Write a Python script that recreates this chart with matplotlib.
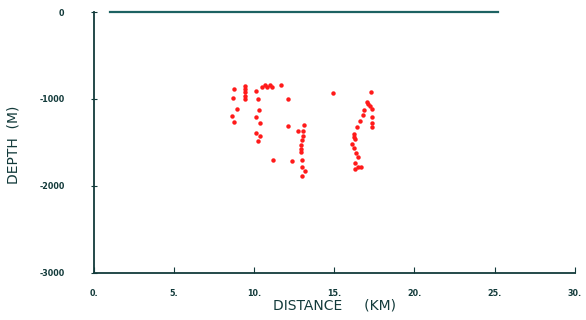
import numpy as np
from matplotlib import pyplot as plt

# hypocentres (distance km, depth m)
dist_km = [8.75, 8.71, 8.94, 8.63, 8.73,
           9.46, 9.46, 9.46, 9.46, 9.46,
           10.11, 10.25, 10.31, 10.11, 10.37, 10.12, 10.37, 10.27,
           10.48, 10.65, 10.81, 10.98, 11.12, 11.65,
           12.12, 12.12, 11.19, 12.35, 12.71,
           13.10, 13.06, 13.02, 12.98, 12.93, 12.91, 12.92, 12.96, 12.99, 13.18, 12.96,
           14.91,
           17.26, 17.01, 17.11, 17.22, 16.84, 16.76, 16.59, 16.43, 16.22, 16.22,
           16.26, 16.11, 16.24, 16.34, 16.45, 16.28, 16.47, 16.68, 16.26,
           17.32, 17.36, 17.34, 17.34]
depth_m = [-884, -984, -1118, -1191, -1267,
           -846, -884, -922, -961, -996,
           -903, -995, -1126, -1203, -1279, -1387, -1425, -1483,
           -857, -838, -864, -841, -857, -838,
           -1002, -1310, -1702, -1713, -1368,
           -1298, -1364, -1422, -1471, -1525, -1575, -1613, -1702, -1779, -1828, -1882,
           -933,
           -915, -1037, -1060, -1079, -1126, -1183, -1249, -1325, -1402, -1440,
           -1460, -1517, -1567, -1618, -1670, -1740, -1779, -1779, -1805,
           -1118, -1203, -1279, -1318]

surface_x = [1.0, 25.2]
surface_y = [0, 0]

xticks = [0, 5, 10, 15, 20, 25, 30]
xticklabels = ["0.", "5.", "10.", "15.", "20.", "25.", "30."]
yticks = [0, -1000, -2000, -3000]
yticklabels = ["0", "-1000", "-2000", "-3000"]

ink = "#123a3a"

fig = plt.figure(figsize=(5.86, 3.2), dpi=100)
ax = fig.add_axes([0.160, 0.148, 0.821, 0.814])

ax.plot(surface_x, surface_y, color="#1d6262", lw=1.6, clip_on=False)
ax.plot(dist_km, depth_m, ls="none", marker="o", ms=3.2, color="#ff1a1a", mew=0)

ax.set_xlim(0, 30)
ax.set_ylim(-3000, 0)
ax.spines["top"].set_visible(False)
ax.spines["right"].set_visible(False)
for s in ["left", "bottom"]:
    ax.spines[s].set_color(ink)
    ax.spines[s].set_linewidth(1.3)

ax.set_xticks(xticks)
ax.set_xticklabels(xticklabels, fontsize=5.8, fontweight="bold", color=ink)
ax.set_yticks(yticks)
ax.set_yticklabels(yticklabels, fontsize=5.8, fontweight="bold", color=ink)
ax.tick_params(axis="x", direction="in", length=4, pad=12, color=ink)
ax.tick_params(axis="y", direction="inout", length=4, pad=19, color=ink)

ax.set_xlabel("DISTANCE     (KM)", fontsize=10, color=ink)
ax.set_ylabel("DEPTH  (M)", fontsize=10, color=ink)
ax.xaxis.set_label_coords(0.5, -0.1)
ax.yaxis.set_label_coords(-0.152, 0.49)

fig.savefig("out.png", dpi=100)
